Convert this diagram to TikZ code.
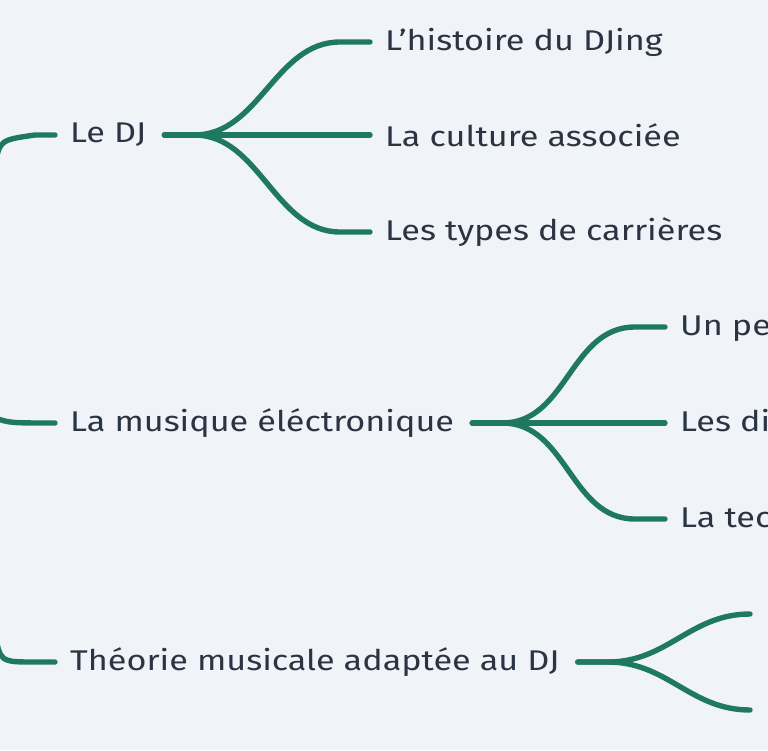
\documentclass[tikz,border=0pt]{standalone}
\usepackage{fontspec}
\setmainfont[FakeStretch=1.2]{Fira Sans}
\definecolor{bgcol}{HTML}{F0F4F8}
\definecolor{linkcol}{HTML}{1F7862}
\definecolor{textcol}{HTML}{2A3442}
\tikzset{
  topic/.style={font=\fontsize{28.5}{31}\selectfont, text=textcol, anchor=west, inner sep=0pt},
  link/.style={draw=linkcol, line width=5.4pt, line cap=round}
}

\begin{document}
\begin{tikzpicture}[x=1pt, y=-1pt]
  \fill[bgcol] (0,0) rectangle (768,750);
  \clip (0,0) rectangle (768,750);
  \useasboundingbox (0,0) rectangle (768,750);

  % main branches
  \node[topic] (dj) at (70,135) {Le DJ};
  \node[topic] (musique) at (70,423) {La musique éléctronique};
  \node[topic] (theorie) at (70,662) {Théorie musicale adaptée au DJ};

  % sub topics
  \node[topic] (histoire) at (385,42) {L’histoire du DJing};
  \node[topic] (culture) at (385,135) {La culture associée};
  \node[topic] (carrieres) at (385,232) {Les types de carrières};
  \node[topic] (peu) at (680,327) {Un peu d’histoire};
  \node[topic] (genres) at (680,423) {Les différents genres};
  \node[topic] (techno) at (680,519) {La technologie};
  \coordinate (tha) at (800,614);
  \coordinate (thb) at (800,710);

  % stubs from the left
  \coordinate (rootA) at (-5,165);
  \coordinate (rootB) at (-5,418);
  \coordinate (rootC) at (-5,632);
  \draw[link] (rootA) .. controls (0,140) .. ([xshift=-35pt]dj.west) -- ([xshift=-15pt]dj.west);
  \draw[link] (rootB) .. controls (10,423) .. ([xshift=-15pt]musique.west);
  \draw[link] (rootC) .. controls (0,662) .. ([xshift=-35pt]theorie.west) -- ([xshift=-15pt]theorie.west);

  % branches to sub topics
  \foreach \from/\to in {dj/histoire, dj/culture, dj/carrieres,
                         musique/peu, musique/genres, musique/techno}
    \draw[link] ([xshift=18pt]\from.east) -- ++(30,0)
      .. controls +(65,0) and +(-65,0) .. ([xshift=-45pt]\to.west)
      -- ([xshift=-15pt]\to.west);
  \foreach \to in {tha, thb}
    \draw[link] ([xshift=18pt]theorie.east) -- ++(30,0)
      .. controls +(60,0) and +(-60,0) .. ([xshift=-50pt]\to);
\end{tikzpicture}
\end{document}
